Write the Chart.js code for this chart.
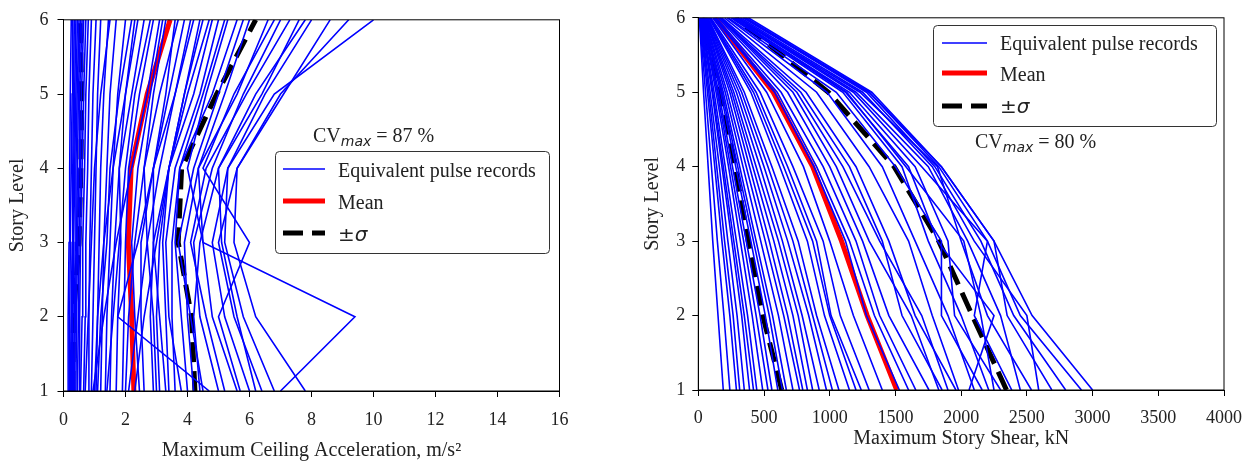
<!DOCTYPE html>
<html><head><meta charset="utf-8">
<script src="https://cdn.jsdelivr.net/npm/chart.js@4.4.0/dist/chart.umd.min.js"></script>
<style>
html,body{margin:0;padding:0;background:#fff;}
#wrap{position:relative;width:1253px;height:469px;overflow:hidden;background:#fff;}
canvas{position:absolute;top:0;}
</style></head><body>
<div id="wrap">
<canvas id="accChart" width="626" height="469" style="left:0px"></canvas>
<canvas id="shearChart" width="618" height="469" style="left:635px"></canvas>
</div>
<script>
// ---------------- data ----------------
const storyLevels = [1, 2, 3, 4, 5, 6];
const levelTicks = [1, 2, 3, 4, 5, 6];
const accTicks = [0, 2, 4, 6, 8, 10, 12, 14, 16];
const shearTicks = [0, 500, 1000, 1500, 2000, 2500, 3000, 3500, 4000];
const legendLabels = ['Equivalent pulse records', 'Mean', '±σ'];
const accTitle = 'Maximum Ceiling Acceleration, m/s²';
const shearTitle = 'Maximum Story Shear, kN';
const levelTitle = 'Story Level';
const accCV = 87;
const shearCV = 80;

// each record: values at story levels 1..6
const accRecords = [
  [0.15,0.15,0.18,0.2,0.22,0.25],
  [0.2,0.2,0.22,0.25,0.28,0.3],
  [0.22,0.25,0.28,0.3,0.32,0.35],
  [0.25,0.28,0.3,0.33,0.36,0.4],
  [0.3,0.3,0.33,0.36,0.4,0.45],
  [0.32,0.35,0.38,0.4,0.44,0.5],
  [0.35,0.38,0.42,0.45,0.48,0.55],
  [0.4,0.42,0.45,0.5,0.52,0.6],
  [0.45,0.48,0.5,0.55,0.58,0.65],
  [0.5,0.52,0.55,0.6,0.65,0.72],
  [0.55,0.6,0.62,0.68,0.72,0.8],
  [0.65,0.7,0.72,0.78,0.82,0.9],
  [0.7,0.8,0.9,1.0,1.2,1.5],
  [0.8,0.82,0.85,0.9,0.95,1.05],
  [0.9,0.95,1.0,1.05,1.1,1.2],
  [0.95,1.3,1.7,2.2,2.7,3.1],
  [1.05,1.1,1.15,1.2,1.3,1.45],
  [1.1,1.2,1.4,1.5,1.8,2.2],
  [1.2,1.25,1.3,1.4,1.5,1.7],
  [1.35,1.4,1.5,1.6,1.75,2.0],
  [1.4,1.6,1.8,2.0,2.3,2.8],
  [1.5,1.55,1.65,1.8,2.0,2.3],
  [1.7,1.75,1.85,1.8,2.2,2.6],
  [1.9,1.95,2.0,2.1,2.45,2.9],
  [2.0,2.1,2.3,2.6,2.9,3.3],
  [2.1,2.4,2.7,3.1,3.6,4.2],
  [2.45,2.3,2.2,2.4,2.8,3.2],
  [2.6,2.5,2.5,2.9,3.3,3.6],
  [2.9,2.8,2.9,2.9,3.6,4.1],
  [3.0,2.9,2.7,2.6,3.1,3.7],
  [3.1,3.0,3.1,3.4,3.9,4.4],
  [3.3,3.1,2.9,3.4,4.0,4.7],
  [3.4,3.3,3.2,3.4,4.2,4.8],
  [3.6,3.5,3.5,3.75,4.5,5.2],
  [3.8,3.4,3.3,3.6,4.4,5.0],
  [4.0,3.8,3.6,3.75,4.8,5.6],
  [4.2,4.0,3.9,4.35,5.2,6.0],
  [4.5,4.1,3.7,4.2,5.0,5.8],
  [4.7,1.75,2.4,2.9,3.4,3.9],
  [7.0,9.4,4.5,4.0,4.6,5.3],
  [5.7,5.0,6.0,4.5,5.5,6.8],
  [5.0,4.4,4.2,4.8,5.8,7.0],
  [5.2,4.6,4.1,4.6,5.9,7.3],
  [5.6,4.8,4.5,4.35,5.6,6.6],
  [6.0,5.2,4.8,5.3,6.5,8.0],
  [6.2,5.6,5.1,5.0,6.2,7.8],
  [6.4,5.5,5.0,5.6,7.0,9.2],
  [6.8,5.8,5.2,5.3,6.8,10.0],
  [7.8,6.2,5.5,5.6,7.1,8.6],
  [4.4,4.2,4.4,5.0,6.4,7.6],
  [2.3,2.6,3.0,3.4,3.9,4.5],
  [1.0,1.1,1.3,1.6,2.0,2.4]
];
const accMean = [2.27, 2.2, 2.09, 2.18, 2.7, 3.44];
const accMinusSigma = [0.3, 0.32, 0.5, 0.56, 0.59, 0.53];
const accPlusSigma = [4.24, 4.13, 3.7, 3.81, 4.94, 6.2];

const shearRecords = [
  [190, 150, 110, 75, 40, 8],
  [240, 195, 145, 100, 55, 10],
  [290, 240, 180, 125, 70, 12],
  [315, 265, 200, 140, 80, 15],
  [350, 295, 225, 160, 90, 18],
  [390, 330, 255, 180, 105, 20],
  [420, 350, 270, 190, 110, 22],
  [445, 375, 290, 205, 120, 24],
  [490, 410, 320, 230, 135, 28],
  [530, 440, 345, 245, 145, 30],
  [560, 470, 365, 260, 155, 32],
  [605, 510, 400, 285, 170, 35],
  [640, 540, 420, 300, 180, 38],
  [670, 565, 440, 315, 190, 40],
  [720, 610, 475, 340, 205, 45],
  [770, 650, 510, 365, 220, 48],
  [795, 680, 540, 390, 240, 52],
  [830, 720, 575, 415, 255, 55],
  [870, 760, 610, 440, 270, 58],
  [920, 790, 640, 470, 290, 62],
  [975, 840, 680, 500, 310, 65],
  [1020, 870, 720, 530, 330, 70],
  [1070, 900, 760, 560, 350, 72],
  [1150, 960, 830, 620, 400, 80],
  [1200, 1000, 870, 650, 420, 85],
  [1240, 1010, 900, 680, 440, 90],
  [1300, 1080, 950, 720, 470, 95],
  [1400, 1180, 1000, 800, 520, 110],
  [1530, 1280, 1120, 880, 580, 120],
  [1600, 1340, 1150, 900, 600, 125],
  [1655, 1380, 1200, 950, 630, 135],
  [1755, 1450, 1250, 1000, 680, 150],
  [1830, 1620, 1300, 1050, 720, 160],
  [1855, 1550, 1400, 1150, 780, 170],
  [1900, 1700, 1380, 1100, 750, 165],
  [1960, 1650, 1450, 1200, 820, 180],
  [1980, 1780, 1600, 1300, 900, 200],
  [2060, 2250, 1820, 1600, 1120, 260],
  [2100, 1900, 1650, 1400, 980, 220],
  [2160, 1850, 1850, 1500, 1050, 230],
  [2210, 2000, 1750, 1550, 1100, 250],
  [2250, 2150, 2020, 1580, 1130, 280],
  [2300, 1950, 1900, 1650, 1150, 270],
  [2385, 2100, 2200, 1700, 1180, 290],
  [2450, 2300, 2050, 1750, 1200, 300],
  [2535, 2200, 2000, 1820, 1230, 300],
  [2590, 2500, 2100, 1780, 1250, 320],
  [2690, 2350, 2250, 1850, 1300, 340],
  [2795, 2400, 2150, 1800, 1280, 350],
  [2915, 2450, 2200, 1830, 1300, 360],
  [3000, 2540, 2250, 1850, 1320, 380]
];
const shearMean = [1510, 1285, 1090, 870, 570, 127];
const shearMinusSigma = [635, 490, 380, 280, 165, 28];
const shearPlusSigma = [2345, 2085, 1830, 1490, 990, 280];

// ---------------- styles ----------------
const recordStyle = { color: '#0000ff', width: 1.6, dash: [] };
const meanStyle = { color: '#ff0000', width: 5, dash: [] };
const sigmaStyle = { color: '#000000', width: 5, dash: [20, 9] };
const FONT = '"Liberation Serif", "Times New Roman", serif';
const TEXT = '#222222';

function toPoints(values) {
  return values.map((v, i) => ({ x: v, y: storyLevels[i] }));
}
function lineDs(values, st, label) {
  return {
    label: label,
    data: toPoints(values),
    showLine: true,
    borderColor: st.color,
    backgroundColor: st.color,
    borderWidth: st.width,
    borderDash: st.dash,
    pointRadius: 0,
    pointHoverRadius: 0,
    tension: 0,
    fill: false
  };
}

function drawHandle(ctx, x1, x2, y, st) {
  ctx.save();
  ctx.beginPath();
  ctx.strokeStyle = st.color;
  ctx.lineWidth = st.width;
  ctx.setLineDash(st.dash);
  ctx.lineCap = 'butt';
  ctx.moveTo(x1, y); ctx.lineTo(x2, y);
  ctx.stroke();
  ctx.restore();
}

const overlayPlugin = {
  id: 'overlay',
  afterDatasetsDraw(chart) {
    const { ctx, chartArea: a } = chart;
    ctx.save();
    ctx.strokeStyle = '#000';
    ctx.lineWidth = 1;
    ctx.strokeRect(a.left, a.top, a.right - a.left, a.bottom - a.top);
    ctx.restore();
  },
  afterDraw(chart, args, o) {
    const ctx = chart.ctx;
    const ox = o.offsetX;
    const b = o.box;
    ctx.save();
    ctx.beginPath();
    ctx.roundRect(b.x - ox + 0.5, b.y + 0.5, b.w, b.h, 4);
    ctx.fillStyle = 'rgba(255,255,255,0.9)';
    ctx.fill();
    ctx.strokeStyle = '#333';
    ctx.lineWidth = 1;
    ctx.stroke();
    const styles = [recordStyle, meanStyle, sigmaStyle];
    ctx.fillStyle = TEXT;
    ctx.textBaseline = 'alphabetic';
    legendLabels.forEach((lab, i) => {
      const hy = b.y + o.handleY[i];
      drawHandle(ctx, o.hx1 - ox, o.hx2 - ox, hy, styles[i]);
      const ty = b.y + o.textY[i];
      if (lab === '±σ') {
        ctx.font = '20px "DejaVu Sans"';
        ctx.fillText('±', o.tx - ox, ty);
        const w = ctx.measureText('±').width;
        ctx.font = 'italic 20px "DejaVu Sans"';
        ctx.fillText('σ', o.tx - ox + w, ty);
      } else {
        ctx.font = '20px ' + FONT;
        ctx.fillText(lab, o.tx - ox, ty);
      }
    });
    let x = o.cvX - ox;
    const y = o.cvY;
    ctx.font = '20px ' + FONT;
    ctx.fillText('CV', x, y);
    x += ctx.measureText('CV').width;
    ctx.font = 'italic 14px "DejaVu Sans"';
    ctx.fillText('max', x, y + 4);
    x += ctx.measureText('max').width;
    ctx.font = '20px ' + FONT;
    ctx.fillText(' = ' + o.cv + ' %', x, y);
    ctx.restore();
  }
};

function makeChart(id, cfg) {
  const datasets = [];
  cfg.records.forEach((r, i) => datasets.push(lineDs(r, recordStyle, 'record ' + (i + 1))));
  datasets.push(lineDs(cfg.mean, meanStyle, 'Mean'));
  datasets.push(lineDs(cfg.plus, sigmaStyle, '+σ'));
  datasets.push(lineDs(cfg.minus, sigmaStyle, '−σ'));
  return new Chart(document.getElementById(id), {
    type: 'scatter',
    data: { datasets },
    options: {
      responsive: false,
      animation: false,
      devicePixelRatio: 1,
      events: [],
      layout: { padding: { left: 0, top: cfg.padTop, right: cfg.padRight, bottom: 0 } },
      plugins: {
        legend: { display: false },
        tooltip: { enabled: false },
        overlay: cfg.overlay
      },
      scales: {
        x: {
          type: 'linear',
          min: cfg.xTicks[0],
          max: cfg.xTicks[cfg.xTicks.length - 1],
          afterBuildTicks: s => { s.ticks = cfg.xTicks.map(v => ({ value: v })); },
          afterFit: s => { s.height = cfg.xAxisH; },
          grid: { drawOnChartArea: false, drawTicks: true, tickLength: 6, color: '#000', tickWidth: 1 },
          border: { display: true, color: '#000', width: 1 },
          ticks: {
            color: TEXT, padding: cfg.xTickPad, maxRotation: 0, autoSkip: false,
            font: { family: FONT, size: 18 },
            callback: v => String(v)
          },
          title: {
            display: true, text: cfg.xTitle, color: TEXT,
            font: { family: FONT, size: 20 },
            padding: { top: 0, bottom: cfg.xTitlePad }
          }
        },
        y: {
          type: 'linear',
          min: 1, max: 6,
          afterBuildTicks: s => { s.ticks = levelTicks.map(v => ({ value: v })); },
          afterFit: s => { s.width = cfg.yAxisW; },
          grid: { drawOnChartArea: false, drawTicks: true, tickLength: 6, color: '#000', tickWidth: 1 },
          border: { display: true, color: '#000', width: 1 },
          ticks: {
            color: TEXT, padding: cfg.yTickPad, autoSkip: false,
            font: { family: FONT, size: 18 },
            callback: v => String(v)
          },
          title: {
            display: true, text: levelTitle, color: TEXT,
            font: { family: FONT, size: 20 },
            padding: { top: 6, bottom: 0 }
          }
        }
      }
    },
    plugins: [overlayPlugin]
  });
}

makeChart('accChart', {
  records: accRecords, mean: accMean, plus: accPlusSigma, minus: accMinusSigma,
  xTicks: accTicks, xTitle: accTitle,
  padTop: 14, padRight: 66.5, xAxisH: 78, yAxisW: 63.5,
  xTickPad: 12, xTitlePad: 6, yTickPad: 9,
  overlay: {
    offsetX: 0,
    box: { x: 275, y: 151, w: 274, h: 102 },
    hx1: 283, hx2: 325, tx: 338,
    handleY: [18, 50, 82], textY: [26, 58, 90],
    cvX: 313, cvY: 142, cv: accCV
  }
});

makeChart('shearChart', {
  records: shearRecords, mean: shearMean, plus: shearPlusSigma, minus: shearMinusSigma,
  xTicks: shearTicks, xTitle: shearTitle,
  padTop: 14, padRight: 27, xAxisH: 79, yAxisW: 63.3,
  xTickPad: 11, xTitlePad: 18, yTickPad: 7,
  overlay: {
    offsetX: 635,
    box: { x: 933, y: 25, w: 283, h: 101 },
    hx1: 942, hx2: 987, tx: 1000,
    handleY: [18, 48, 81], textY: [25, 56, 88],
    cvX: 975, cvY: 148, cv: shearCV
  }
});
</script>
</body></html>
